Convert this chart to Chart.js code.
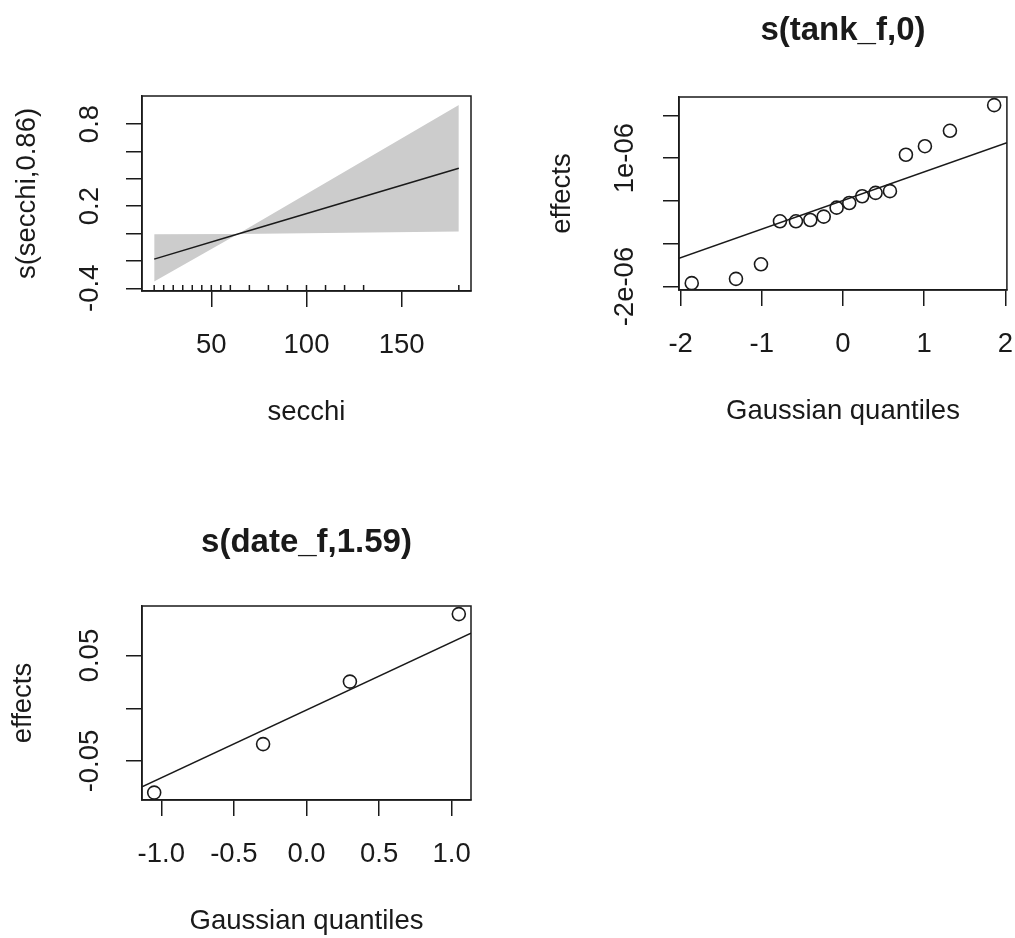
<!DOCTYPE html>
<html><head><meta charset="utf-8">
<script src="https://cdn.jsdelivr.net/npm/chart.js@4.4.1/dist/chart.umd.min.js"></script>
<style>
html,body{margin:0;padding:0;background:#fff;}
#wrap{position:relative;width:1015px;height:938px;overflow:hidden;background:#fff;}
canvas{position:absolute;}
</style></head><body>
<div id="wrap">
<canvas id="c1" width="507" height="469" style="left:0;top:0;width:507px;height:469px"></canvas>
<canvas id="c2" width="508" height="469" style="left:507px;top:0;width:508px;height:469px"></canvas>
<canvas id="c3" width="507" height="469" style="left:0;top:469px;width:507px;height:469px"></canvas>
</div>
<script>
// ---------- Panel 1: s(secchi,0.86) ----------
const secchiX      = [20, 64, 180];
const secchiFit    = [-0.187, -0.004, 0.477];
const secchiUpper  = [-0.005, -0.004, 0.94];
const secchiLower  = [-0.35, -0.004, 0.015];
const secchiRug    = [20, 25, 30, 35, 40, 45, 50, 55, 60, 70, 80, 90, 100, 110, 120, 130, 180];
const secchiXRange = [13.6, 186.4];
const secchiYRange = [-0.42, 1.005];
const secchiXTicks = [50, 100, 150];
const secchiXLabels = ['50', '100', '150'];
const secchiYTicks = [-0.4, -0.2, 0, 0.2, 0.4, 0.6, 0.8];
const secchiYLabels = ['-0.4', '', '', '0.2', '', '', '0.8'];

// ---------- Panel 2: s(tank_f,0) ----------
const tankQ = [-1.863, -1.318, -1.010, -0.776, -0.579, -0.402, -0.237, -0.078,
               0.078, 0.237, 0.402, 0.579, 0.776, 1.010, 1.318, 1.863];
const tankEffects = [-1.92e-6, -1.82e-6, -1.48e-6, -0.475e-6, -0.475e-6, -0.444e-6, -0.366e-6, -0.156e-6,
                     -0.047e-6, 0.11e-6, 0.19e-6, 0.23e-6, 1.08e-6, 1.28e-6, 1.64e-6, 2.24e-6];
const tankLineX = [-2.02, 2.02];
const tankLineY = [-1.337e-6, 1.36e-6];
const tankXRange = [-2.02, 2.02];
const tankYRange = [-2.08e-6, 2.43e-6];
const tankXTicks = [-2, -1, 0, 1, 2];
const tankXLabels = ['-2', '-1', '0', '1', '2'];
const tankYTicks = [-2e-6, -1e-6, 0, 1e-6, 2e-6];
const tankYLabels = ['-2e-06', '', '', '1e-06', ''];

// ---------- Panel 3: s(date_f,1.59) ----------
const dateQ = [-1.049, -0.299, 0.299, 1.049];
const dateEffects = [-0.080, -0.034, 0.0253, 0.0893];
const dateLineX = [-1.133, 1.133];
const dateLineY = [-0.0744, 0.0712];
const dateXRange = [-1.133, 1.133];
const dateYRange = [-0.087, 0.097];
const dateXTicks = [-1, -0.5, 0, 0.5, 1];
const dateXLabels = ['-1.0', '-0.5', '0.0', '0.5', '1.0'];
const dateYTicks = [-0.05, 0, 0.05];
const dateYLabels = ['-0.05', '', '0.05'];

// ---------- styling helpers ----------
const FONT = '"Liberation Sans", Arial, Helvetica, sans-serif';
const TXT = 27.5, TTL = 33, TICKLEN = 16, INK = '#1a1a1a';

function pts(xs, ys) { return xs.map((x, i) => ({x: x, y: ys[i]})); }

function xAxis(range, ticks, labels, title, height, titlePadBottom) {
  return {
    type: 'linear', position: 'bottom', min: range[0], max: range[1],
    afterBuildTicks: s => { s.ticks = ticks.map(v => ({value: v})); },
    afterFit: s => { s.height = height; s.paddingLeft = 0; s.paddingRight = 0; },
    ticks: { autoSkip: false, minRotation: 0, maxRotation: 0, padding: 21.5, color: INK,
             font: {family: FONT, size: TXT}, callback: (v, i) => labels[i] },
    grid: { drawOnChartArea: false, drawTicks: true, tickLength: TICKLEN, color: INK, lineWidth: 1.5 },
    border: { display: true, color: INK, width: 1.5 },
    title: { display: true, text: title, color: INK, font: {family: FONT, size: TXT},
             padding: {top: 0, bottom: titlePadBottom} }
  };
}
function yAxis(range, ticks, labels, title, width, tickPad, titlePadTop) {
  return {
    type: 'linear', position: 'left', min: range[0], max: range[1],
    afterBuildTicks: s => { s.ticks = ticks.map(v => ({value: v})); },
    afterFit: s => { s.width = width; s.paddingTop = 0; s.paddingBottom = 0; },
    ticks: { autoSkip: false, minRotation: 90, maxRotation: 90, crossAlign: 'center', padding: tickPad,
             color: INK, font: {family: FONT, size: TXT}, callback: (v, i) => labels[i] },
    grid: { drawOnChartArea: false, drawTicks: true, tickLength: TICKLEN, color: INK, lineWidth: 1.5 },
    border: { display: true, color: INK, width: 1.5 },
    title: { display: true, text: title, color: INK, font: {family: FONT, size: TXT},
             padding: {top: titlePadTop, bottom: 0} }
  };
}
const boxPlugin = {
  id: 'rbox',
  afterDraw(chart) {
    const a = chart.chartArea, c = chart.ctx;
    c.save(); c.strokeStyle = INK; c.lineWidth = 1.5;
    c.strokeRect(a.left, a.top, a.right - a.left, a.bottom - a.top);
    c.restore();
  }
};
function baseOptions(pad, titleText, titlePad, xs, ys) {
  return {
    responsive: false, animation: false, devicePixelRatio: 1, events: [],
    layout: { padding: pad },
    plugins: {
      legend: { display: false }, tooltip: { enabled: false },
      title: { display: !!titleText, text: titleText || '', fullSize: false, color: INK,
               font: {family: FONT, size: TTL, weight: 'bold'}, padding: titlePad }
    },
    scales: { x: xs, y: ys }
  };
}
const circleStyle = { pointStyle: 'circle', pointRadius: 6.5, borderColor: INK, borderWidth: 1.6,
                      backgroundColor: 'rgba(0,0,0,0)', pointBackgroundColor: 'rgba(0,0,0,0)' };
const lineStyle = { borderColor: INK, borderWidth: 1.5, pointRadius: 0, fill: false, tension: 0 };

// ---------- Chart 1 ----------
new Chart(document.getElementById('c1'), {
  type: 'scatter',
  data: { datasets: [
    { type: 'line', data: pts(secchiX, secchiUpper), fill: '+1', backgroundColor: '#cccccc',
      borderColor: 'rgba(0,0,0,0)', borderWidth: 0, pointRadius: 0, order: 3 },
    { type: 'line', data: pts(secchiX, secchiLower), fill: false,
      borderColor: 'rgba(0,0,0,0)', borderWidth: 0, pointRadius: 0, order: 4 },
    Object.assign({ type: 'line', data: pts(secchiX, secchiFit), order: 2 }, lineStyle),
    { type: 'scatter', data: secchiRug.map(x => ({x: x, y: secchiYRange[0]})), pointStyle: 'line',
      rotation: 90, pointRadius: 6, borderColor: INK, borderWidth: 1.5,
      clip: {left: false, right: false, top: false, bottom: 0}, order: 1 }
  ]},
  options: baseOptions({left: 0, top: 96, right: 36, bottom: 0}, null, 0,
    xAxis(secchiXRange, secchiXTicks, secchiXLabels, 'secchi', 178, 40),
    yAxis(secchiYRange, secchiYTicks, secchiYLabels, 's(secchi,0.86)', 142, 12, 10.5)),
  plugins: [boxPlugin]
});

// ---------- Chart 2 ----------
new Chart(document.getElementById('c2'), {
  type: 'scatter',
  data: { datasets: [
    Object.assign({ type: 'scatter', data: pts(tankQ, tankEffects), order: 1 }, circleStyle),
    Object.assign({ type: 'line', data: pts(tankLineX, tankLineY), order: 2 }, lineStyle)
  ]},
  options: baseOptions({left: 0, top: 0, right: 7, bottom: 0}, 's(tank_f,0)', {top: 11, bottom: 46.4},
    xAxis(tankXRange, tankXTicks, tankXLabels, 'Gaussian quantiles', 179, 41),
    yAxis(tankYRange, tankYTicks, tankYLabels, 'effects', 172, -2, 38.5)),
  plugins: [boxPlugin]
});

// ---------- Chart 3 ----------
new Chart(document.getElementById('c3'), {
  type: 'scatter',
  data: { datasets: [
    Object.assign({ type: 'scatter', data: pts(dateQ, dateEffects), order: 1 }, circleStyle),
    Object.assign({ type: 'line', data: pts(dateLineX, dateLineY), order: 2 }, lineStyle)
  ]},
  options: baseOptions({left: 0, top: 0, right: 36, bottom: 0}, 's(date_f,1.59)', {top: 53.7, bottom: 43.7},
    xAxis(dateXRange, dateXTicks, dateXLabels, 'Gaussian quantiles', 138, 0),
    yAxis(dateYRange, dateYTicks, dateYLabels, 'effects', 142, 4.3, 7.2)),
  plugins: [boxPlugin]
});
</script>
</body></html>
